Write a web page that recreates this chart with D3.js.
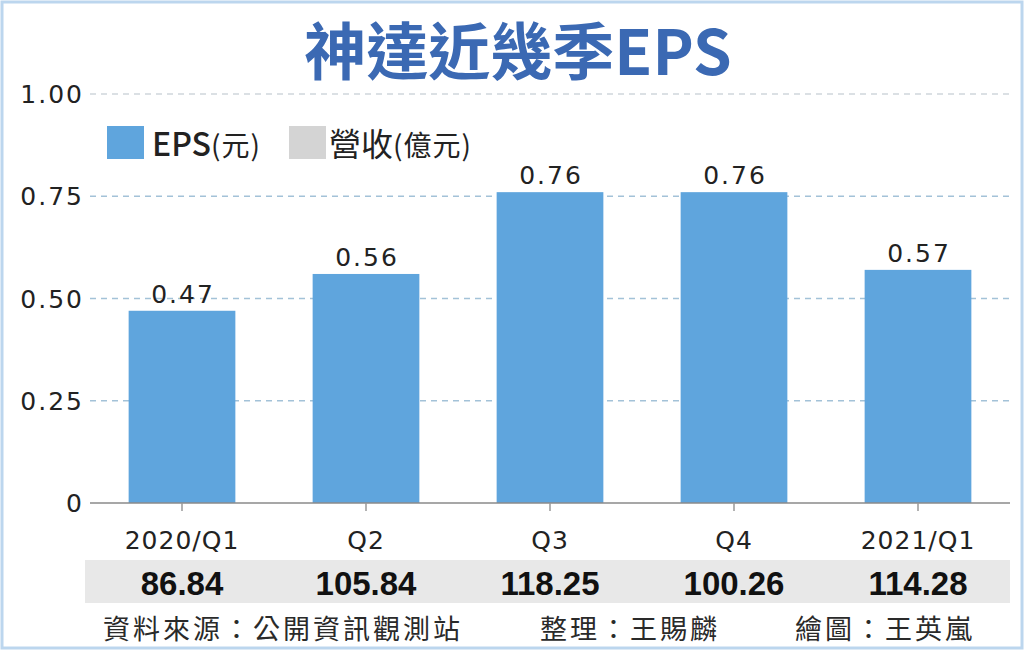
<!DOCTYPE html>
<html>
<head>
<meta charset="utf-8">
<script src="https://cdn.jsdelivr.net/npm/d3@7"></script>
<style>
  body { margin: 0; background: #fff; }
  svg { display: block; }
</style>
</head>
<body>
<div id="chart"></div>
<script>
// Data
const quarters = ["2020/Q1", "Q2", "Q3", "Q4", "2021/Q1"];
const eps = [0.47, 0.56, 0.76, 0.76, 0.57];
const revenue = ["86.84", "105.84", "118.25", "100.26", "114.28"];
const yTicks = [0, 0.25, 0.5, 0.75, 1.0];
const titleText = "神達近幾季EPS";
const legendItems = [
    { name: "EPS", unit: "(元)", color: "#5fa5dd" },
    { name: "營收", unit: "(億元)", color: "#d4d4d4" }
];
const credits = [
    { text: "資料來源：公開資訊觀測站", x: 103 },
    { text: "整理：王賜麟", x: 540 },
    { text: "繪圖：王英嵐", x: 795 }
];

const W = 1024, H = 651;
const cjk = "'Noto Sans CJK TC', 'Noto Sans CJK SC', sans-serif";
const num = "'DejaVu Sans', 'Noto Sans', sans-serif";

const svg = d3.select("#chart").append("svg")
    .attr("width", W)
    .attr("height", H);

svg.append("rect")
    .attr("width", W).attr("height", H)
    .attr("fill", "#fff");

// light blue frame
svg.append("rect")
    .attr("x", 2).attr("y", 2)
    .attr("width", W - 4).attr("height", H - 5)
    .attr("fill", "none")
    .attr("stroke", "#bcd6ee")
    .attr("stroke-width", 3);

// Scales
const x = d3.scaleBand()
    .domain(quarters)
    .range([90, 1010])
    .paddingInner(0.42)
    .paddingOuter(0.21);

const y = d3.scaleLinear()
    .domain([0, 1])
    .range([503, 94]);

// Title
svg.append("text")
    .attr("x", 518)
    .attr("y", 75)
    .attr("text-anchor", "middle")
    .attr("font-family", cjk)
    .attr("font-weight", "bold")
    .attr("font-size", 62)
    .attr("fill", "#3b69b3")
    .text(titleText);

// Grid lines
svg.append("g")
    .selectAll("line")
    .data(yTicks.filter(d => d > 0))
    .join("line")
    .attr("x1", 90).attr("x2", 1010)
    .attr("y1", d => y(d)).attr("y2", d => y(d))
    .attr("stroke", d => d === 1 ? "#cfd6dc" : "#a3c2d8")
    .attr("stroke-width", 1.3)
    .attr("stroke-dasharray", "6,5");

// Y axis labels
svg.append("g")
    .selectAll("text")
    .data(yTicks)
    .join("text")
    .attr("x", 84)
    .attr("y", d => y(d))
    .attr("dy", "0.36em")
    .attr("text-anchor", "end")
    .attr("font-family", num)
    .attr("font-size", 25)
    .attr("letter-spacing", 2)
    .attr("fill", "#222")
    .text(d => d === 0 ? "0" : d3.format(".2f")(d));

// Bars
svg.append("g")
    .selectAll("rect")
    .data(eps)
    .join("rect")
    .attr("x", (d, i) => x(quarters[i]))
    .attr("y", d => y(d))
    .attr("width", x.bandwidth())
    .attr("height", d => y(0) - y(d))
    .attr("fill", "#5fa5dd");

// Value labels
svg.append("g")
    .selectAll("text")
    .data(eps)
    .join("text")
    .attr("x", (d, i) => x(quarters[i]) + x.bandwidth() / 2 + 1)
    .attr("y", d => y(d) - 8)
    .attr("text-anchor", "middle")
    .attr("font-family", num)
    .attr("font-size", 25)
    .attr("letter-spacing", 2)
    .attr("fill", "#222")
    .text(d => d3.format(".2f")(d));

// Baseline and x axis
const xAxis = svg.append("g")
    .attr("transform", "translate(0," + y(0) + ")")
    .call(d3.axisBottom(x).tickSize(8).tickPadding(20));
xAxis.select(".domain")
    .attr("d", "M90,0H1010")
    .attr("stroke", "#8a8a8a")
    .attr("stroke-width", 1.5);
xAxis.selectAll(".tick line")
    .attr("stroke", "#999")
    .attr("stroke-width", 1.5);
xAxis.selectAll(".tick text")
    .attr("font-family", num)
    .attr("font-size", 25)
    .attr("letter-spacing", 1)
    .attr("fill", "#222");

// Revenue band
svg.append("rect")
    .attr("x", 85).attr("y", 560)
    .attr("width", 925).attr("height", 43)
    .attr("fill", "#e8e8e8");

svg.append("g")
    .selectAll("text")
    .data(revenue)
    .join("text")
    .attr("x", (d, i) => x(quarters[i]) + x.bandwidth() / 2)
    .attr("y", 595)
    .attr("text-anchor", "middle")
    .attr("font-family", "'Liberation Sans', Arial, sans-serif")
    .attr("font-weight", "bold")
    .attr("font-size", 33)
    .attr("fill", "#111")
    .text(d => d);

// Legend
const legend = svg.append("g");
const legendX = [107, 289];
legendItems.forEach(function(item, i) {
    const g = legend.append("g").attr("transform", "translate(" + legendX[i] + ",0)");
    g.append("rect")
        .attr("x", 0).attr("y", 126)
        .attr("width", 37).attr("height", 33)
        .attr("fill", item.color);
    const t = g.append("text")
        .attr("x", i === 0 ? 45 : 40)
        .attr("y", 156)
        .attr("font-family", cjk)
        .attr("fill", "#222");
    t.append("tspan")
        .attr("font-size", 32)
        .attr("font-weight", i === 0 ? "500" : "normal")
        .text(item.name);
    t.append("tspan")
        .attr("font-size", 28)
        .attr("letter-spacing", 1)
        .text(item.unit);
});

// Credits
svg.append("g")
    .selectAll("text")
    .data(credits)
    .join("text")
    .attr("x", d => d.x)
    .attr("y", 639)
    .attr("font-family", cjk)
    .attr("font-size", 27)
    .attr("letter-spacing", 3)
    .attr("fill", "#2a2a2a")
    .text(d => d.text);
</script>
</body>
</html>
